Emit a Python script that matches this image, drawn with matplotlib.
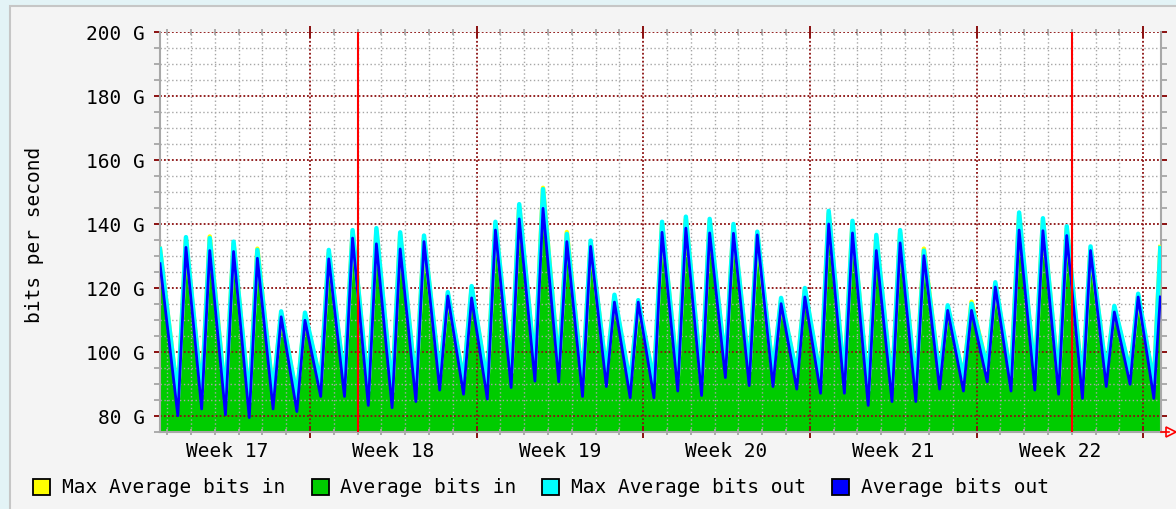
import numpy as np
import matplotlib
matplotlib.use("Agg")
import matplotlib.pyplot as plt
from matplotlib.lines import Line2D
from matplotlib.patches import Rectangle
from matplotlib.ticker import FixedLocator, MultipleLocator

plt.rcParams["font.family"] = ["DejaVu Sans Mono", "DejaVu Sans"]

W, H = 1176, 510

# time axis: days since Monday 00:00 of week 17
T_START, T_END = 0.70, 42.72
CYCLE_DAYS = np.arange(1, 43)
TROUGH_PHASE, PEAK_PHASE = 0.45, 0.79
WEEKS = [17, 18, 19, 20, 21, 22]
MONTH_STARTS = [9.0, 39.0]

# daily minima / maxima (G bit/s)
OUT_TROUGH = [80.1, 82.2, 80.4, 79.5, 82.2, 81.4, 86.1, 86.1, 83.3, 82.6,
              84.5, 88.1, 86.8, 85.3, 88.9, 90.9, 90.7, 86.1, 89.2, 85.7,
              85.7, 87.8, 86.4, 92.0, 89.5, 89.2, 88.4, 87.1, 87.1, 83.3,
              84.5, 84.5, 88.4, 87.8, 90.7, 87.8, 88.1, 86.8, 85.5, 89.2,
              89.9, 85.5]
OUT_PEAK = [132.7, 131.7, 131.4, 129.3, 111.0, 109.9, 129.1, 135.6, 133.8, 132.2,
            134.5, 117.5, 116.9, 138.1, 141.6, 144.9, 134.5, 133.0, 115.6, 115.6,
            137.4, 138.7, 137.2, 137.1, 136.6, 115.1, 117.2, 140.0, 137.2, 131.7,
            134.1, 130.1, 113.0, 113.0, 120.3, 138.1, 137.9, 136.4, 131.7, 112.5,
            117.2]
OUT_START, OUT_END = 127.6, 117.2

MAXOUT_TROUGH = [85.5, 87.0, 85.5, 84.5, 87.0, 86.0, 90.5, 90.5, 88.0, 87.5,
                 89.0, 92.5, 91.0, 90.0, 93.5, 95.5, 95.0, 90.5, 93.5, 90.0,
                 90.5, 92.0, 91.0, 96.0, 94.0, 93.5, 93.0, 91.5, 91.5, 88.0,
                 89.0, 89.0, 92.5, 92.0, 95.0, 92.0, 92.5, 91.0, 90.0, 93.5,
                 94.0, 90.0]
MAXOUT_PEAK = [135.9, 135.6, 134.5, 131.9, 112.7, 112.3, 131.9, 138.1, 138.7, 137.4,
               136.4, 118.7, 120.6, 140.7, 146.2, 150.9, 136.9, 134.8, 117.9, 116.2,
               140.7, 142.3, 141.6, 140.0, 137.6, 116.9, 120.0, 144.1, 141.0, 136.6,
               138.1, 131.7, 114.6, 115.1, 121.8, 143.6, 141.8, 139.3, 133.0, 114.4,
               118.2]
MAXOUT_START, MAXOUT_END = 132.2, 132.5

MAXIN_PEAK = [135.0, 136.1, 133.8, 132.3, 112.0, 111.5, 131.0, 137.4, 137.9, 136.6,
              135.6, 118.0, 119.8, 139.9, 145.4, 151.3, 137.5, 134.0, 117.1, 115.5,
              139.9, 141.5, 140.8, 139.2, 136.8, 116.1, 119.2, 143.3, 140.2, 135.8,
              137.3, 132.3, 113.8, 115.7, 121.0, 142.8, 141.0, 138.5, 132.2, 113.6,
              117.4]
MAXIN_TROUGH = MAXOUT_TROUGH  # hidden under the max-out line
MAXIN_START, MAXIN_END = 132.2, 132.8

# average in and average out overlap at this scale
IN_TROUGH, IN_PEAK = OUT_TROUGH, OUT_PEAK
IN_START, IN_END = OUT_START, OUT_END

C_IN = "#00cc00"
C_OUT = "#0000ff"
C_MAXIN = "#ffff00"
C_MAXOUT = "#00ffff"
C_GRID_MAJ = "#8b1010"
C_GRID_MIN = "#a6a6a6"
FS = 14


def build_series(start, troughs, peaks, end):
    t, v = [T_START], [start]
    for i, day in enumerate(CYCLE_DAYS):
        t.append(day + TROUGH_PHASE)
        v.append(troughs[i])
        if i < len(peaks):
            t.append(day + PEAK_PHASE)
            v.append(peaks[i])
    t.append(T_END)
    v.append(end)
    return np.array(t), np.array(v)


fig = plt.figure(figsize=(W / 100, H / 100), dpi=100)
fig.patch.set_facecolor("#e3f3f6")
fig.add_artist(Rectangle((10 / W, -0.05), 1.2, 1.05 - 7 / H, transform=fig.transFigure,
                         facecolor="#f4f4f4", edgecolor="#c6c6c6", lw=1.5, zorder=-10))

ax = fig.add_axes([160 / W, 1 - 433 / H, 1001 / W, 400 / H])
ax.set_facecolor("white")
ax.set_axisbelow("line")

t_in, v_in = build_series(IN_START, IN_TROUGH, IN_PEAK, IN_END)
t_out, v_out = build_series(OUT_START, OUT_TROUGH, OUT_PEAK, OUT_END)
t_mo, v_mo = build_series(MAXOUT_START, MAXOUT_TROUGH, MAXOUT_PEAK, MAXOUT_END)
t_mi, v_mi = build_series(MAXIN_START, MAXIN_TROUGH, MAXIN_PEAK, MAXIN_END)

ax.fill_between(t_in, 0, v_in, color=C_IN, lw=0, zorder=1)
ax.plot(t_mi, v_mi, color=C_MAXIN, lw=3.2, zorder=3)
ax.plot(t_mo, v_mo, color=C_MAXOUT, lw=3.2, zorder=4)
ax.plot(t_out, v_out, color=C_OUT, lw=2.0, zorder=5)
for m in MONTH_STARTS:
    ax.axvline(m, color="#ff0000", lw=1.5, zorder=6)

ax.set_xlim(T_START, 42.75)
ax.set_ylim(75, 200)

week_starts = [7 * i for i in range(len(WEEKS) + 1)]
ax.xaxis.set_major_locator(FixedLocator(week_starts))
ax.xaxis.set_minor_locator(MultipleLocator(1))
ax.yaxis.set_major_locator(MultipleLocator(20))
ax.yaxis.set_minor_locator(MultipleLocator(5))

ax.grid(which="major", color=C_GRID_MAJ, lw=1.3, ls=(0, (1, 1.2)))
ax.grid(which="minor", color=C_GRID_MIN, lw=1.0, ls=(0, (1, 1.8)))

ax.tick_params(axis="y", which="major", left=True, right=True, direction="out",
               length=4, width=1.4, color=C_GRID_MAJ, labelsize=FS, pad=7)
ax.tick_params(axis="y", which="minor", left=True, right=True, direction="out",
               length=4, width=1.3, color=C_GRID_MIN)
ax.tick_params(axis="x", which="major", bottom=True, top=True, direction="inout",
               length=8, width=1.4, color=C_GRID_MAJ, labelbottom=False)
ax.tick_params(axis="x", which="minor", bottom=True, top=True, direction="inout",
               length=5, width=1.3, color=C_GRID_MIN)
ax.set_yticklabels([f"{int(v)} G" for v in ax.get_yticks()])

for side in ["left", "right", "bottom"]:
    ax.spines[side].set_color("#a8a8a8")
    ax.spines[side].set_linewidth(1.5)
ax.spines["top"].set_visible(False)

for i, w in enumerate(WEEKS):
    ax.text(7 * i + 3.5, -0.0475, f"Week {w}", transform=ax.get_xaxis_transform(),
            ha="center", va="center", fontsize=FS, color="black", clip_on=False)

fig.text(35 / W, 1 - 235 / H, "bits per second", rotation=90, ha="center",
         va="center", fontsize=FS)

# arrow at the end of the time axis
y_ax = 1 - 433 / H
fig.add_artist(Line2D([1161 / W, 1169 / W], [y_ax, y_ax], color="#ff0000", lw=1.2))
fig.add_artist(Line2D([1171 / W], [y_ax], marker=">", markersize=7, mfc="none",
                      mec="#ff0000", mew=1.2, ls="none"))

# legend
LEGEND = [("Max Average bits in", C_MAXIN, 33, 62),
          ("Average bits in", C_IN, 312, 340),
          ("Max Average bits out", C_MAXOUT, 542, 571),
          ("Average bits out", C_OUT, 832, 861)]
y_leg = 488
for label, color, bx, tx in LEGEND:
    fig.add_artist(Rectangle((bx / W, 1 - (y_leg + 8) / H), 17 / W, 16 / H,
                             transform=fig.transFigure, facecolor=color,
                             edgecolor="black", lw=1.3))
    fig.text(tx / W, 1 - y_leg / H, label, ha="left", va="center", fontsize=FS)

fig.savefig("out.png", dpi=100, facecolor=fig.get_facecolor())
